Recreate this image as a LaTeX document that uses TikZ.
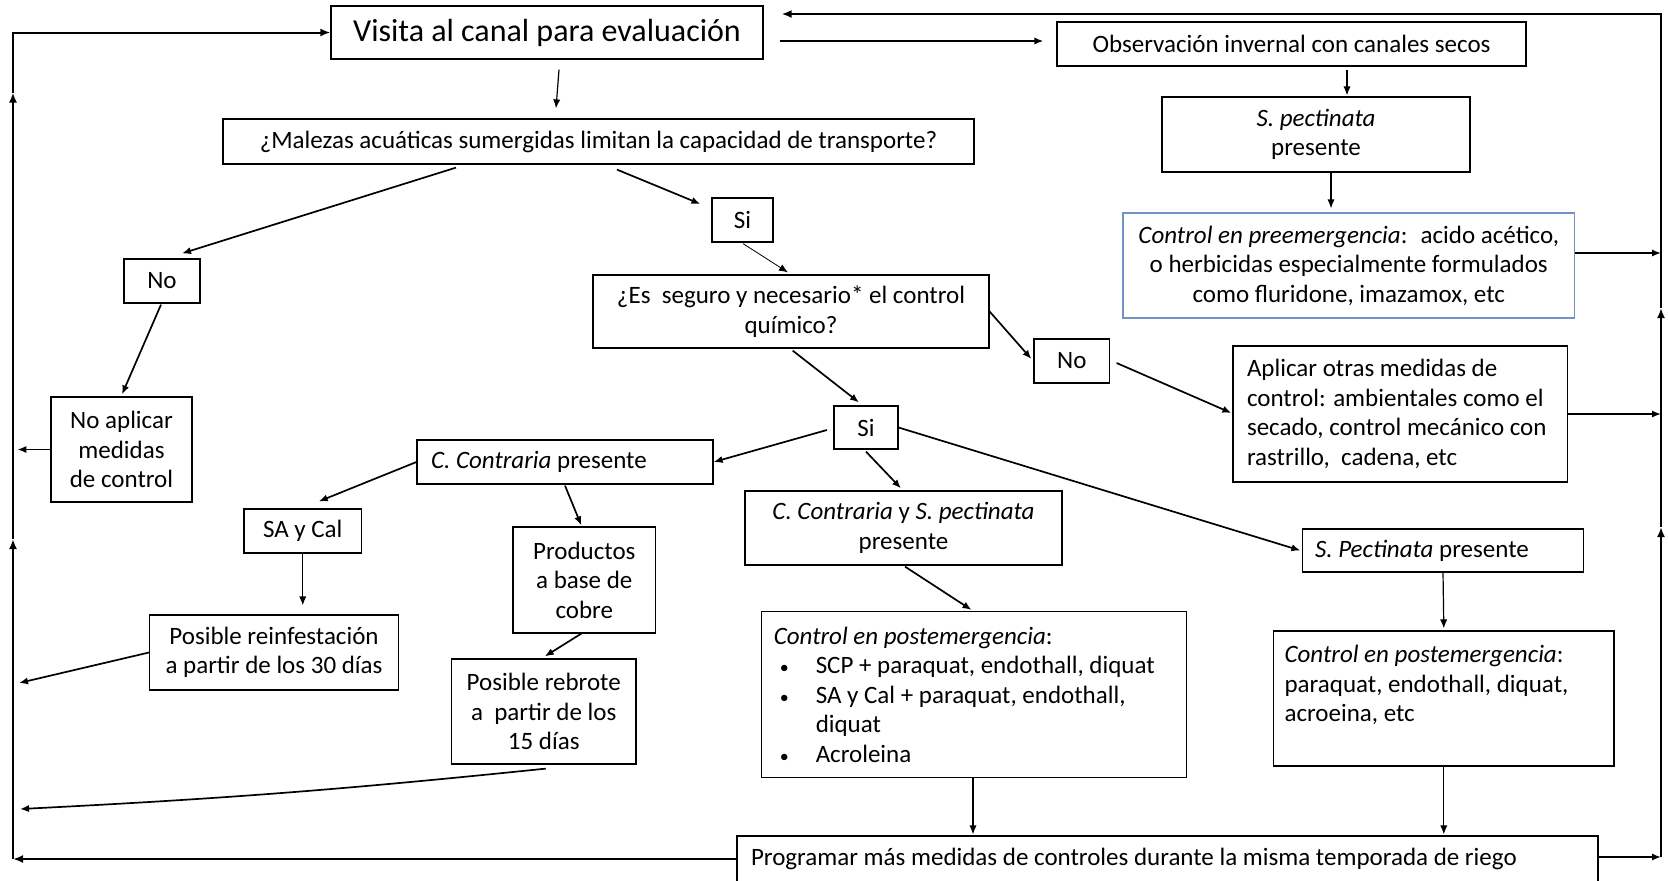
\documentclass[tikz,border=0pt]{standalone}
\usepackage{fontspec}
\setmainfont{Carlito}
\usetikzlibrary{arrows.meta,calc}
\newcommand\bodyfont{\fontsize{12.5pt}{14.75pt}\selectfont}
\newcommand\titlefont{\fontsize{16pt}{19pt}\selectfont}
% natural word spaces inside left-aligned text blocks
\newcommand\natsp{\spaceskip=0pt\xspaceskip=0pt\relax}
\newcommand\bul{\hspace*{3pt}\makebox[18pt][l]{\fontsize{9pt}{9pt}\selectfont\textbullet}}
\definecolor{frameblue}{RGB}{114,145,196}

\begin{document}
\begin{tikzpicture}[x=0.5pt,y=-0.5pt,
  box/.style={draw, line width=0.6pt, inner sep=0pt, align=center, font=\bodyfont},
  lbox/.style={box, align=left},
  sz/.style 2 args={minimum width=#1*0.5pt, minimum height=#2*0.5pt},
  arr/.style={-{Latex[length=4.5pt,width=3.6pt]}, line width=0.85pt},
  varr/.style={arr, line width=0.6pt},
  thinarr/.style={arr, line width=0.4pt},
  fb/.style={line width=1pt},
  fbarr/.style={fb, -{Latex[length=5pt,width=4pt]}},
]
\useasboundingbox (0,0) rectangle (1668,880);

% ---------- boxes ----------
\node[box, sz={432}{53}, font=\titlefont] (visita) at (547,32.5) {Visita al canal para evaluación};
\node[box, sz={469}{44}] (obs) at (1291.5,44) {Observación invernal con canales secos};
\node[box, sz={308}{75}] (spect1) at (1316,134.5) {\textit{S. pectinata}\\presente};
\node[box, sz={451.5}{105}, draw=frameblue] (cpre) at (1348.75,265.5)
  {\textit{Control en preemergencia}:~ acido acético,\\o herbicidas especialmente formulados\\como fluridone, imazamox, etc};
\node[box, sz={751}{45}] (malezas) at (598.5,141.5) {¿Malezas acuáticas sumergidas limitan la capacidad de transporte?};
\node[box, sz={61}{44}] (si1) at (742.5,220) {Si};
\node[box, sz={76}{44}] (no1) at (162,281) {No};
\node[box, sz={396}{73}] (es) at (791,311.5) {¿Es~ seguro y necesario* el control\\químico?};
\node[box, sz={75.5}{44}] (no2) at (1071.75,361) {No};
\node[lbox, text width=153.3pt, inner xsep=7pt, sz={334.6}{136}] (aplicar) at (1400.3,414)
  {\natsp Aplicar otras medidas de\\control: ambientales como el\\secado, control mecánico con\\rastrillo,~ cadena, etc};
\node[box, sz={141}{105}] (noapl) at (121.5,449.5) {No aplicar\\medidas\\de control};
\node[box, sz={64}{43}] (si2) at (866,427.5) {Si};
\node[lbox, text width=134pt, inner xsep=7pt, sz={296}{44}] (ccont) at (565,462) {\natsp\textit{C. Contraria} presente};
\node[box, sz={117.5}{44}] (sacal) at (302.75,531) {SA y Cal};
\node[box, sz={142.6}{106}] (prod) at (584.3,580) {Productos\\a base de\\cobre};
\node[box, sz={317}{74}] (ccsp) at (903.5,528) {\textit{C. Contraria} y \textit{S. pectinata}\\presente};
\node[lbox, text width=128pt, inner xsep=6.25pt, sz={281}{43}] (spect2) at (1443,550.5) {\natsp\textit{S. Pectinata} presente};
\node[box, sz={249}{75}] (reinf) at (274,652.5) {Posible reinfestación\\a partir de los 30 días};
\node[box, sz={184.5}{105}] (rebrote) at (543.75,711.5) {Posible rebrote\\a~ partir de los\\15 días};
\node[lbox, text width=200.25pt, inner xsep=6pt, sz={424.5}{166}] (cpostm) at (974,694.5)
  {\natsp\textit{Control en postemergencia}:\\
   \bul SCP + paraquat, endothall, diquat\\
   \bul SA y Cal + paraquat, endothall,\\
   \hspace*{21pt}diquat\\
   \bul Acroleina};
\node[lbox, text width=159.2pt, inner xsep=5.5pt, sz={340.4}{135}] (cpostr) at (1443.8,698.5)
  {\natsp\textit{Control en postemergencia}:\\paraquat, endothall, diquat,\\acroeina, etc\\\mbox{}};
\node[lbox, text width=416.5pt, inner xsep=7pt, sz={861}{46}] (prog) at (1167.5,859)
  {\natsp Programar más medidas de controles durante la misma temporada de riego};

% ---------- forward connectors ----------
\draw[varr] ($(visita.south)+(12,10)$) -- ($(malezas.north)+(-42.5,-10)$);
\draw[arr] ($(visita.east)+(16,8.5)$) -- ($(obs.west)+(-13,-3)$);
\draw[arr] ($(malezas.south)+(-142.5,3)$) -- ($(no1.north)+(20,-5)$);
\draw[arr] ($(malezas.south)+(18.5,5)$) -- ($(si1.west)+(-11,-16)$);
\draw[thinarr] ($(si1.south)+(0.5,1)$) -- ($(es.north)+(-3,-2)$);
\draw[arr] ($(no1.south)+(-1,1)$) -- ($(noapl.north)+(0.5,-2)$);
\draw[arr] (es.east) -- ($(no2.west)+(-2,-2)$);
\draw[arr] ($(es.south)+(1.7,2)$) -- ($(si2.north)+(-7,-3)$);
\draw[arr] ($(no2.east)+(6.5,2)$) -- ($(aplicar.west)+(-1,-1)$);
\draw[arr] ($(si2.west)+(-6.5,2.5)$) -- (ccont.east);
\draw[arr] ($(si2.south)+(0,2)$) -- ($(ccsp.north)+(-2.5,-2)$);
\draw[arr] (si2.east) -- ($(spect2.west)+(-1.5,0)$);
\draw[arr] (ccont.west) -- ($(sacal.north)+(16,-7)$);
\draw[arr] ($(ccont.south)+(0,1)$) -- ($(prod.north)+(-3,-1)$);
\draw[varr] (sacal.south) -- ($(reinf.north)+(28.75,-9)$);
\draw[arr] ($(prod.south)+(-3,0)$) -- ($(rebrote.north)+(1,-2)$);
\draw[arr] ($(ccsp.south)+(1.5,1)$) -- ($(cpostm.north)+(-2.5,-1)$);
\draw[varr] (spect2.south) -- ($(cpostr.north)+(0,-2)$);
\draw[varr] ($(cpostm.south)+(-1,0)$) -- ($(prog.north)+(-194.5,-1)$);
\draw[varr] (cpostr.south) -- ($(prog.north)+(276.3,-1)$);
\draw[varr] ($(obs.south)+(55.5,3)$) -- ($(spect1.north)+(31,-1)$);
\draw[varr] ($(spect1.south)+(15,0)$) -- ($(cpre.north)+(-17.75,-4)$);

% ---------- return loop, right side ----------
\coordinate (rt) at (1661,14);
\coordinate (rb) at (1661,857);
\coordinate (ru1) at (1661,527);
\coordinate (ru2) at (1661,308);
\coordinate (topend) at ($(visita.east)+(18,-18.5)$);
\path ($(cpre.east)+(0,-12.5)$) coordinate (cpreout);
\draw[arr] (cpreout) -- (cpreout -| rt);
\draw[arr] (aplicar.east) -- (aplicar.east -| rt);
\draw[arr] ($(prog.east)+(0,-2)$) -- (rb);
\draw[fbarr] (rb) -- (ru1);
\draw[fbarr] (ru1) -- (ru2);
\draw[fbarr] (ru2) -- (rt) -- (topend);

% ---------- return loop, left side ----------
\coordinate (lb) at (13,859);
\coordinate (lt) at (13,32.5);
\coordinate (lu1) at (13,539);
\coordinate (lu2) at (13,92.5);
\coordinate (lreinf) at (19,683);
\coordinate (lrebrote) at (20,809);
\draw[arr] (noapl.west) -- ++(-33,0) coordinate (lnoapl);
\draw[arr] (reinf.west) -- (lreinf);
\draw[arr] ($(rebrote.south)+(2,4)$) to[bend left=1.5] (lrebrote);
\draw[fbarr] (prog.west) -- (lb);
\draw[fbarr] (lb) -- (lu1);
\draw[fbarr] (lu1) -- (lu2);
\draw[fbarr] (lu2) -- (lt) -- (visita.west);
\end{tikzpicture}
\end{document}
